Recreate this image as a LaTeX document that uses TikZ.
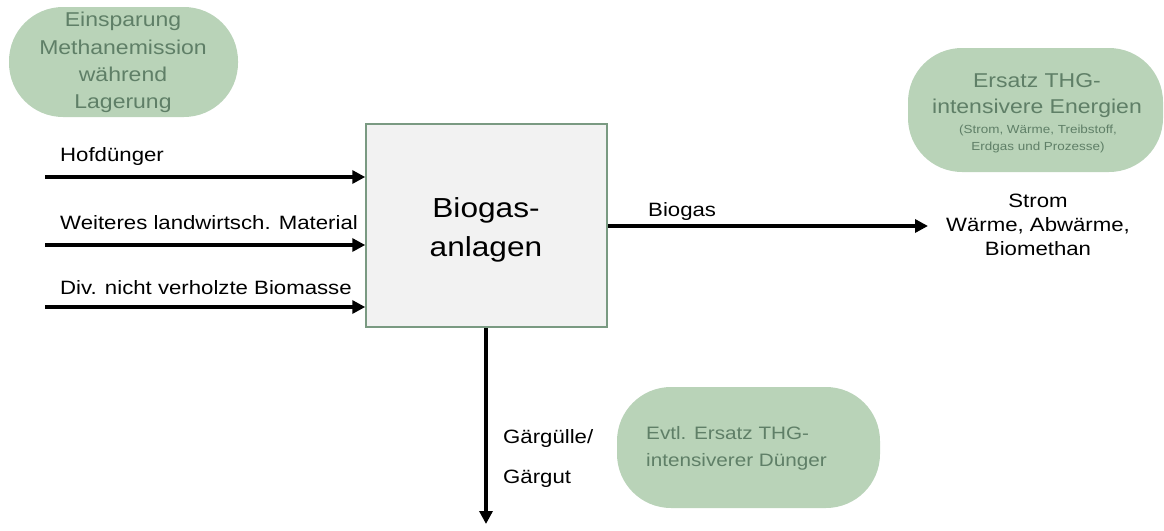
\documentclass[tikz,border=0pt]{standalone}
\usepackage{fontspec}
\setmainfont{Liberation Sans}[FakeStretch=1.15]
\usetikzlibrary{arrows.meta}
\definecolor{sage}{HTML}{B9D3B8}
\definecolor{sagetext}{HTML}{5F7F67}
\definecolor{boxedge}{HTML}{7A9A82}
\definecolor{boxfill}{HTML}{F2F2F2}
\begin{document}
\begin{tikzpicture}[x=1pt,y=-1pt,
  flow/.style={line width=3.5pt,-{Triangle[length=13pt,width=13pt]}},
  lbl/.style={anchor=base west,inner sep=0pt,font=\fontsize{19.3}{24}\selectfont},
  prod/.style={anchor=base,inner sep=0pt,font=\fontsize{19.3}{24}\selectfont},
  bubble/.style={fill=sage,draw=none,rounded corners=54pt,inner sep=0pt},
  btxt/.style={anchor=base,inner sep=0pt,text=sagetext,font=\fontsize{20}{27}\selectfont},
  bsmall/.style={anchor=base,inner sep=0pt,text=sagetext,font=\fontsize{11.7}{17}\selectfont},
  plantbox/.style={draw=boxedge,fill=boxfill,line width=1.5pt,inner sep=0pt},
  planttxt/.style={anchor=base,inner sep=0pt,font=\fontsize{27.5}{39}\selectfont},
]
\useasboundingbox (0,0) rectangle (1164,530);

% bubbles
\node[bubble,minimum width=229pt,minimum height=110pt] (b1) at (123.5,62) {};
\node[btxt] (b1a) at (123,27) {Einsparung};
\node[btxt] (b1b) at (123,54) {Methanemission};
\node[btxt] (b1c) at (123,81) {während};
\node[btxt] (b1d) at (123,108) {Lagerung};

\node[bubble,minimum width=255pt,minimum height=124pt] (b2) at (1035.5,110) {};
\node[btxt] (b2a) at (1037,87) {Ersatz THG-};
\node[btxt] (b2b) at (1037,113) {intensivere Energien};
\node[bsmall] (b2c) at (1038,133) {(Strom, Wärme, Treibstoff,};
\node[bsmall] (b2d) at (1038,150) {Erdgas und Prozesse)};

\node[bubble,minimum width=263pt,minimum height=121pt] (b3) at (748.5,447.5) {};
\node[btxt,anchor=base west,font=\fontsize{18}{27}\selectfont] (b3a) at (646,439) {Evtl. Ersatz THG-};
\node[btxt,anchor=base west,font=\fontsize{18}{27}\selectfont] (b3b) at (646,466) {intensiverer Dünger};

% plant
\node[plantbox,minimum width=241pt,minimum height=203pt] (plant) at (486.5,225.5) {};
\node[planttxt] (pa) at (486,217) {Biogas-};
\node[planttxt] (pb) at (486,256) {anlagen};

% inputs
\coordinate (in1) at (45,177);
\coordinate (in2) at (45,245);
\coordinate (in3) at (45,307);
\draw[flow] (in1) -- (in1 -| plant.west);
\draw[flow] (in2) -- (in2 -| plant.west);
\draw[flow] (in3) -- (in3 -| plant.west);
\node[lbl] (l1) at (60,161) {Hofdünger};
\node[lbl] (l2) at (60,229) {Weiteres landwirtsch. Material};
\node[lbl] (l3) at (60,294) {Div. nicht verholzte Biomasse};

% outputs
\coordinate (outE) at (928,226);
\draw[flow] (plant.east |- outE) -- (outE);
\node[lbl] (lg) at (648,216) {Biogas};
\node[prod] (p1) at (1038,207) {Strom};
\node[prod] (p2) at (1038,231) {Wärme, Abwärme,};
\node[prod] (p3) at (1038,255) {Biomethan};

\coordinate (outS) at (486,524);
\draw[flow] (plant.south -| outS) -- (outS);
\node[lbl] (d1) at (503,443) {Gärgülle/};
\node[lbl] (d2) at (503,483) {Gärgut};
\end{tikzpicture}
\end{document}
